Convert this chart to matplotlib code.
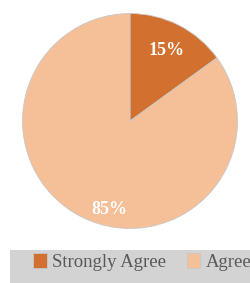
import matplotlib.pyplot as plt
from matplotlib.patches import Rectangle

labels = ['Strongly Agree', 'Agree']
values = [15, 85]
colors = ['#D2702F', '#F5BF97']

fig = plt.figure(figsize=(2.5, 2.83), dpi=100)
ax = fig.add_axes([22/250, 1 - 229/283, 216/250, 216/283])

wedges, texts, pcts = ax.pie(values, colors=colors, startangle=90, counterclock=False,
                             autopct='%d%%', pctdistance=0.74,
                             wedgeprops=dict(edgecolor='#c8c8c8', linewidth=0.6),
                             textprops=dict(color='white', fontsize=13, fontweight='bold',
                                            family='Liberation Serif'))
# the 85% label sits lower than the wedge middle
pcts[1].set_position((-0.19, -0.82))
ax.set_xlim(-1.005, 1.005)
ax.set_ylim(-1.005, 1.005)
ax.set_aspect('equal')

# grey legend band
fig.patches.append(Rectangle((10/250, 0), 240/250, 33/283, transform=fig.transFigure,
                             facecolor='#d3d3d3', edgecolor='none', zorder=0))
fig.legend(wedges, labels, loc='center left', bbox_to_anchor=(33/250, 21/283), ncol=2,
           frameon=False, handlelength=0.72, handleheight=0.85, handletextpad=0.32,
           columnspacing=1.08, borderaxespad=0, borderpad=0, labelcolor='#595959',
           prop=dict(family='Liberation Serif', size=13.5))

fig.savefig('out.png', dpi=100)
